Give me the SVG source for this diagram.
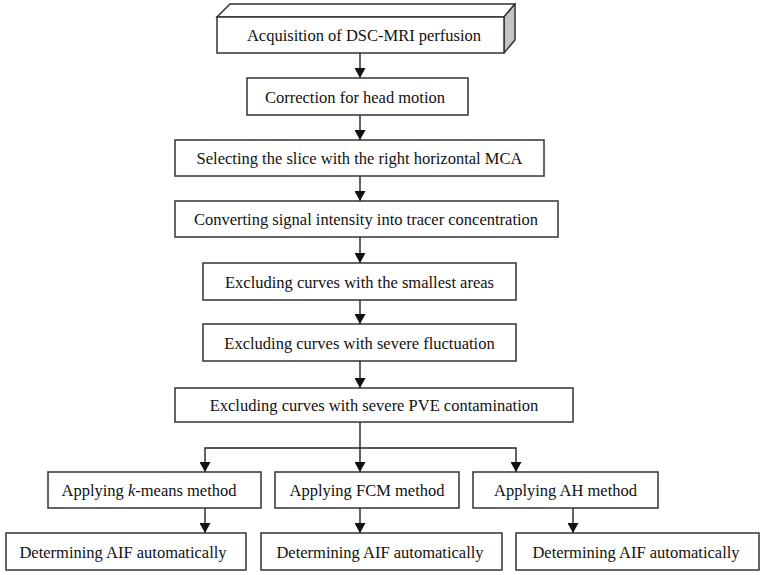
<svg xmlns="http://www.w3.org/2000/svg" width="762" height="575" viewBox="0 0 762 575">
<style>
.box{fill:#fff;stroke:#333;stroke-width:1.5}
.side{fill:#c4c4c4;stroke:#333;stroke-width:1.5;stroke-linejoin:round}
.lbl{font-family:'Liberation Serif','Times New Roman',Tinos,'DejaVu Serif',serif;font-size:16.5px;fill:#111;text-anchor:middle}
.con{fill:none;stroke:#222;stroke-width:1.4}
</style>
<defs>
<marker id="ah" markerUnits="userSpaceOnUse" markerWidth="10" markerHeight="11" refX="10" refY="5.5" orient="auto">
<path d="M0,0 L10,5.5 L0,11 z" fill="#111"/>
</marker>
</defs>
<rect width="762" height="575" fill="#fff"/>
<g id="connectors">
<path class="con" d="M360,53 V78" marker-end="url(#ah)"/>
<path class="con" d="M360,115 V140" marker-end="url(#ah)"/>
<path class="con" d="M360,176 V201" marker-end="url(#ah)"/>
<path class="con" d="M360,237 V263" marker-end="url(#ah)"/>
<path class="con" d="M360,300 V324" marker-end="url(#ah)"/>
<path class="con" d="M360,361 V388" marker-end="url(#ah)"/>
<path class="con" d="M360,422 V472" marker-end="url(#ah)"/>
<path class="con" d="M360,448 H205 V472" marker-end="url(#ah)"/>
<path class="con" d="M360,448 H516 V472" marker-end="url(#ah)"/>
<path class="con" d="M205,508 V533" marker-end="url(#ah)"/>
<path class="con" d="M360,508 V533" marker-end="url(#ah)"/>
<path class="con" d="M573,508 V533" marker-end="url(#ah)"/>
</g>
<g id="n1">
<polygon class="box" points="217,17 230,4 515,4 504,17"/>
<polygon class="side" points="504,17 515,4 515,40 504,53"/>
<rect class="box" x="217" y="17" width="287" height="36"/>
<text class="lbl" x="364" y="41" font-family="Liberation Serif">Acquisition of DSC-MRI perfusion</text>
</g>
<g id="n2">
<rect class="box" x="247" y="78" width="221" height="37"/>
<text class="lbl" x="355" y="102.5">Correction for head motion</text>
</g>
<g id="n3">
<rect class="box" x="175" y="140" width="369" height="36"/>
<text class="lbl" x="359.5" y="164">Selecting the slice with the right horizontal MCA</text>
</g>
<g id="n4">
<rect class="box" x="175" y="201" width="383" height="36"/>
<text class="lbl" x="366" y="225">Converting signal intensity into tracer concentration</text>
</g>
<g id="n5">
<rect class="box" x="203" y="263" width="313" height="37"/>
<text class="lbl" x="359.5" y="287.5">Excluding curves with the smallest areas</text>
</g>
<g id="n6">
<rect class="box" x="203" y="324" width="313" height="37"/>
<text class="lbl" x="359.5" y="348.5">Excluding curves with severe fluctuation</text>
</g>
<g id="n7">
<rect class="box" x="175" y="388" width="398" height="34"/>
<text class="lbl" x="374" y="411">Excluding curves with severe PVE contamination</text>
</g>
<g id="n8">
<rect class="box" x="48" y="472" width="213" height="36"/>
<text class="lbl" x="149" y="496">Applying <tspan font-style="italic">k</tspan>-means method</text>
</g>
<g id="n9">
<rect class="box" x="275" y="472" width="184" height="36"/>
<text class="lbl" x="367" y="496">Applying FCM method</text>
</g>
<g id="n10">
<rect class="box" x="473" y="472" width="185" height="36"/>
<text class="lbl" x="565.5" y="496">Applying AH method</text>
</g>
<g id="n11">
<rect class="box" x="6" y="533" width="240" height="37"/>
<text class="lbl" x="123" y="557.5">Determining AIF automatically</text>
</g>
<g id="n12">
<rect class="box" x="261" y="533" width="241" height="37"/>
<text class="lbl" x="380" y="557.5">Determining AIF automatically</text>
</g>
<g id="n13">
<rect class="box" x="516" y="533" width="243" height="37"/>
<text class="lbl" x="636" y="557.5">Determining AIF automatically</text>
</g>
</svg>
